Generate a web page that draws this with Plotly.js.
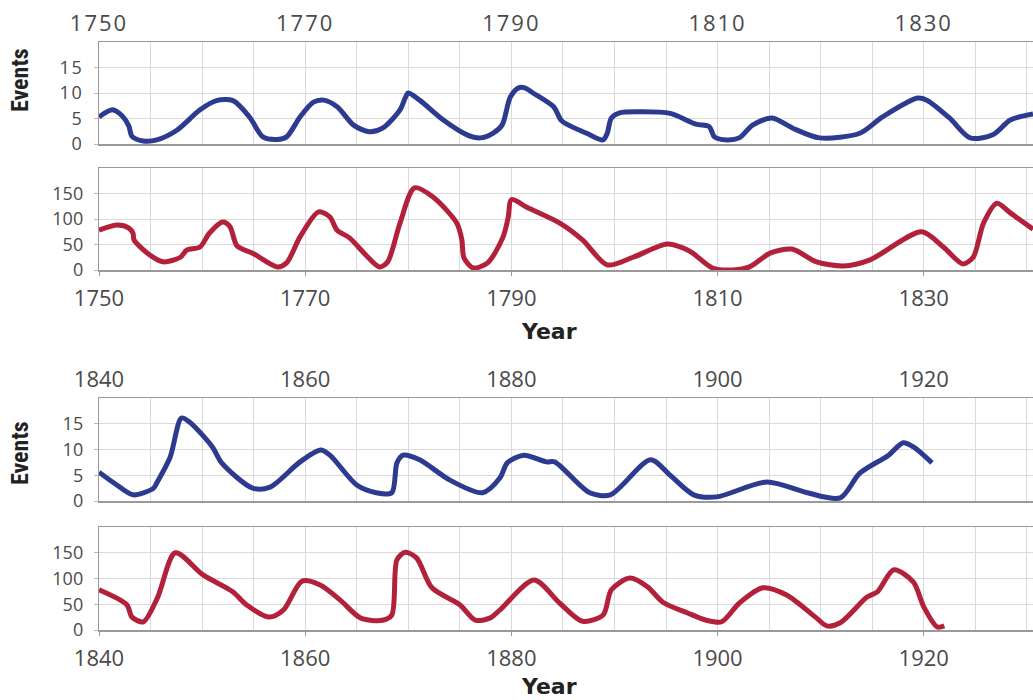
<!DOCTYPE html>
<html>
<head>
<meta charset="utf-8">
<script src="https://cdn.plot.ly/plotly-3.0.1.min.js"></script>
<style>
html, body { margin: 0; padding: 0; background: #ffffff; }
#chart { width: 1033px; height: 700px; }
#chart .xtick text { letter-spacing: 2px; }
#chart .ytick text { letter-spacing: 1.5px; }
</style>
</head>
<body>
<div id="chart"></div>
<script>
// ---- Data ----
// Period 1750-1840
const yearsEventsA = [1750.0,1751.3,1752.3,1752.9,1753.2,1754.3,1755.6,1757.55,1759.8,1761.4,1763.0,1764.6,1765.9,1767.3,1768.2,1769.5,1770.8,1771.8,1773.1,1774.7,1776.2,1777.5,1779.2,1779.7,1780.0,1781.1,1783.4,1785.7,1787.0,1788.2,1789.1,1789.9,1790.7,1791.3,1792.1,1794.1,1794.9,1797.3,1798.9,1799.3,1799.7,1800.5,1802.5,1805.4,1807.9,1809.2,1809.7,1810.9,1812.1,1813.4,1815.3,1817.3,1819.9,1823.8,1826.0,1829.4,1830.3,1832.5,1834.5,1836.7,1838.4,1840.6];
const eventsA = [5.3,6.7,5.4,3.5,1.5,0.6,0.8,2.7,6.7,8.5,8.5,5.3,1.4,0.9,1.4,5.3,8.2,8.6,7.3,3.7,2.4,3.1,6.7,9.0,10.0,8.6,4.7,1.8,1.2,2.1,3.7,9.2,11.0,11.0,10.0,7.3,4.5,2.1,0.8,2.1,5.1,6.1,6.3,6.0,3.9,3.4,1.4,0.8,1.2,3.7,5.1,3.1,1.2,2.1,5.3,9.0,8.6,5.1,1.2,1.8,4.7,5.9];

const yearsSunA = [1750.0,1751.8,1752.9,1753.3,1753.4,1754.7,1756.2,1757.9,1758.5,1759.8,1760.7,1762.0,1762.7,1763.4,1764.9,1767.3,1768.2,1769.5,1771.3,1772.4,1773.1,1774.3,1775.9,1777.2,1778.0,1779.2,1780.6,1782.4,1784.7,1785.2,1785.4,1786.3,1787.7,1789.2,1789.7,1790.0,1791.6,1794.7,1796.9,1799.3,1801.8,1805.1,1806.7,1807.6,1809.5,1811.5,1813.1,1815.1,1817.2,1819.6,1822.2,1824.8,1829.8,1831.9,1833.8,1834.8,1835.8,1837.1,1838.4,1840.6];
const sunA = [78,88,82,72,59,33,16,25,39,45,72,94,85,47,33,6,14,65,114,104,78,63,29,6,16,92,161,143,92,59,24,4,14,65,104,138,122,92,59,10,25,51,43,33,4,0,6,33,41,16,8,20,75,45,12,25,92,131,112,80];

// Period 1840-1930
const yearsEventsB = [1840.0,1841.6,1843.3,1845.3,1845.6,1846.9,1848.0,1848.8,1851.0,1851.9,1854.9,1856.6,1859.5,1861.5,1862.4,1865.0,1866.9,1868.4,1868.9,1869.5,1871.1,1874.0,1877.2,1878.9,1879.6,1881.2,1883.4,1884.2,1887.6,1889.6,1893.5,1895.4,1897.7,1899.9,1904.8,1908.7,1911.9,1913.8,1916.6,1918.0,1919.0,1920.8];
const eventsB = [5.6,3.3,1.2,2.5,3.5,8.5,16.1,15.3,10.5,7.4,2.5,2.7,7.6,9.9,8.9,3.1,1.6,1.6,7.4,8.9,8.0,4.1,1.6,4.5,7.4,8.9,7.6,7.6,1.6,1.2,8.0,5.0,1.2,0.8,3.7,1.6,0.6,5.4,8.9,11.3,10.5,7.4];

const yearsSunB = [1840.0,1842.7,1843.2,1844.3,1845.7,1847.4,1850.1,1853.0,1854.3,1856.5,1857.9,1859.7,1861.5,1863.4,1865.4,1867.5,1868.4,1868.9,1869.7,1870.8,1872.3,1875.0,1876.5,1877.9,1878.9,1882.2,1884.7,1886.9,1888.9,1889.7,1891.5,1893.2,1894.7,1897.1,1898.9,1900.4,1902.1,1904.4,1906.7,1909.5,1910.6,1911.9,1914.5,1915.5,1917.1,1919.0,1920.0,1921.3,1922.0];
const sunB = [78,49,25,16,64,150,107,74,49,25,39,95,87,58,23,19,29,136,151,140,82,49,19,23,39,97,52,17,29,78,101,84,54,33,19,16,52,82,68,25,8,14,64,74,117,93,45,6,8];

const xTickYearsA = [1750,1770,1790,1810,1830];
const xTickYearsB = [1840,1860,1880,1900,1920];
const eventTicks = [0,5,10,15];
const sunTicks = [0,50,100,150];

// ---- Styling ----
const BLUE = '#2c3a8f';
const RED = '#b3203a';
const GRID = '#dadada';
const BORDER = '#9a9a9a';
const xTickFont = {family: 'Open Sans, sans-serif', size: 22, color: '#4a4a4a'};
const yTickFont = {family: 'Open Sans, sans-serif', size: 18, color: '#4a4a4a'};

const W = 1033, H = 700;
const xDom = [99 / W, 1];
function yd(topPx, botPx) { return [1 - botPx / H, 1 - topPx / H]; }

function xAxis(start, tickYears, side, anchor) {
  return {
    domain: xDom,
    range: [start, start + 90.6],
    anchor: anchor,
    side: side,
    tickmode: 'array',
    tickvals: tickYears,
    ticktext: tickYears.map(String),
    ticks: side === 'bottom' ? 'outside' : '',
    ticklen: 4,
    tickcolor: BORDER,
    ticklabelstandoff: side === 'bottom' ? 4 : 1,
    showgrid: true,
    gridcolor: GRID,
    gridwidth: 1,
    minor: {dtick: 5, tick0: start, showgrid: true, gridcolor: GRID, gridwidth: 1, ticks: ''},
    showline: true,
    linecolor: BORDER,
    linewidth: 1.5,
    mirror: true,
    zeroline: false,
    tickfont: xTickFont,
    fixedrange: true
  };
}
function yAxis(domain, range, ticks, anchor) {
  return {
    domain: domain,
    range: range,
    anchor: anchor,
    tickmode: 'array',
    tickvals: ticks,
    ticktext: ticks.map(String),
    ticks: 'outside',
    ticklen: 4,
    tickcolor: '#bbbbbb',
    ticklabelstandoff: 7,
    showgrid: true,
    gridcolor: GRID,
    gridwidth: 1,
    showline: true,
    linecolor: BORDER,
    linewidth: 1.2,
    zeroline: false,
    tickfont: yTickFont,
    fixedrange: true
  };
}

const lineStyle = (c) => ({color: c, width: 5, shape: 'spline', smoothing: 0.8});

const traces = [
  {x: yearsEventsA, y: eventsA, xaxis: 'x', yaxis: 'y', mode: 'lines', line: lineStyle(BLUE), hoverinfo: 'x+y', showlegend: false},
  {x: yearsSunA, y: sunA, xaxis: 'x2', yaxis: 'y2', mode: 'lines', line: lineStyle(RED), hoverinfo: 'x+y', showlegend: false},
  {x: yearsEventsB, y: eventsB, xaxis: 'x3', yaxis: 'y3', mode: 'lines', line: lineStyle(BLUE), hoverinfo: 'x+y', showlegend: false},
  {x: yearsSunB, y: sunB, xaxis: 'x4', yaxis: 'y4', mode: 'lines', line: lineStyle(RED), hoverinfo: 'x+y', showlegend: false}
];

const titleFont = {family: 'Liberation Sans Narrow, Roboto Condensed, Arial Narrow, sans-serif', size: 24, color: '#222222', weight: 'bold'};
const yearFont = {family: 'DejaVu Sans, sans-serif', size: 22, color: '#222222', weight: 'bold'};

const layout = {
  width: W,
  height: H,
  margin: {l: 0, r: 0, t: 0, b: 0, pad: 0},
  paper_bgcolor: '#ffffff',
  plot_bgcolor: '#ffffff',
  showlegend: false,
  xaxis: xAxis(1750, xTickYearsA, 'top', 'y'),
  yaxis: yAxis(yd(42, 144), [0, 20], eventTicks, 'x'),
  xaxis2: xAxis(1750, xTickYearsA, 'bottom', 'y2'),
  yaxis2: yAxis(yd(168, 270), [0, 200], sunTicks, 'x2'),
  xaxis3: xAxis(1840, xTickYearsB, 'top', 'y3'),
  yaxis3: yAxis(yd(398, 501), [0, 20], eventTicks, 'x3'),
  xaxis4: xAxis(1840, xTickYearsB, 'bottom', 'y4'),
  yaxis4: yAxis(yd(527, 630), [0, 200], sunTicks, 'x4'),
  annotations: [
    {text: 'Events', xref: 'paper', yref: 'paper', x: 20 / W, y: 1 - 80 / H, textangle: -90, showarrow: false, font: titleFont, xanchor: 'center', yanchor: 'middle'},
    {text: 'Events', xref: 'paper', yref: 'paper', x: 20 / W, y: 1 - 453 / H, textangle: -90, showarrow: false, font: titleFont, xanchor: 'center', yanchor: 'middle'},
    {text: 'Year', xref: 'paper', yref: 'paper', x: 549 / W, y: 1 - 331 / H, showarrow: false, font: yearFont, xanchor: 'center', yanchor: 'middle'},
    {text: 'Year', xref: 'paper', yref: 'paper', x: 549 / W, y: 1 - 686 / H, showarrow: false, font: yearFont, xanchor: 'center', yanchor: 'middle'}
  ]
};

Plotly.newPlot('chart', traces, layout, {displayModeBar: false, staticPlot: true});
</script>
</body>
</html>
